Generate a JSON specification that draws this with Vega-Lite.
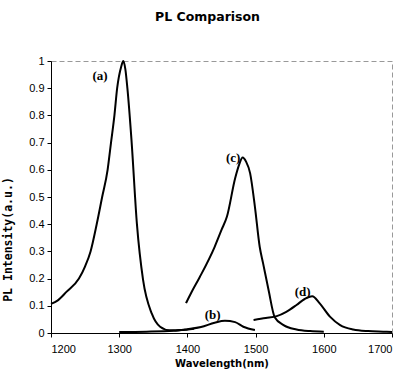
{
  "$schema": "https://vega.github.io/schema/vega-lite/v6.json",
  "width": 341,
  "height": 272,
  "autosize": "none",
  "padding": {"left": 51, "top": 61, "right": 8, "bottom": 42},
  "background": "white",
  "title": {"text": "PL Comparison", "font": "DejaVu Sans", "fontSize": 12.5, "fontWeight": "bold", "color": "#000", "anchor": "middle", "dx": -14, "offset": 32},
  "config": {
    "view": {"stroke": "#999", "strokeDash": [5, 3], "strokeWidth": 1},
    "axis": {"grid": false, "domainColor": "#000", "tickColor": "#000", "labelColor": "#000", "titleColor": "#000", "labelFont": "Liberation Sans", "labelFontSize": 11, "titleFont": "DejaVu Sans", "titleFontWeight": "bold", "titleFontSize": 10}
  },
  "data": {"values": [
    {"s": "a", "x": 1200, "y": 0.107},
    {"s": "a", "x": 1210, "y": 0.12},
    {"s": "a", "x": 1223, "y": 0.152},
    {"s": "a", "x": 1241, "y": 0.2},
    {"s": "a", "x": 1250, "y": 0.245},
    {"s": "a", "x": 1258, "y": 0.3},
    {"s": "a", "x": 1267, "y": 0.4},
    {"s": "a", "x": 1275, "y": 0.5},
    {"s": "a", "x": 1283, "y": 0.6},
    {"s": "a", "x": 1288, "y": 0.7},
    {"s": "a", "x": 1293, "y": 0.8},
    {"s": "a", "x": 1297, "y": 0.9},
    {"s": "a", "x": 1303, "y": 0.98},
    {"s": "a", "x": 1306, "y": 1.0},
    {"s": "a", "x": 1309, "y": 0.97},
    {"s": "a", "x": 1312, "y": 0.9},
    {"s": "a", "x": 1318, "y": 0.71},
    {"s": "a", "x": 1326, "y": 0.4},
    {"s": "a", "x": 1335, "y": 0.195},
    {"s": "a", "x": 1348, "y": 0.07},
    {"s": "a", "x": 1360, "y": 0.023},
    {"s": "a", "x": 1374, "y": 0.01},
    {"s": "a", "x": 1390, "y": 0.011},
    {"s": "a", "x": 1410, "y": 0.016},
    {"s": "b", "x": 1300, "y": 0.004},
    {"s": "b", "x": 1340, "y": 0.005},
    {"s": "b", "x": 1380, "y": 0.008},
    {"s": "b", "x": 1400, "y": 0.014},
    {"s": "b", "x": 1420, "y": 0.022},
    {"s": "b", "x": 1440, "y": 0.038},
    {"s": "b", "x": 1455, "y": 0.045},
    {"s": "b", "x": 1470, "y": 0.04},
    {"s": "b", "x": 1482, "y": 0.023},
    {"s": "b", "x": 1499, "y": 0.011},
    {"s": "c", "x": 1398, "y": 0.11},
    {"s": "c", "x": 1406, "y": 0.15},
    {"s": "c", "x": 1418, "y": 0.205},
    {"s": "c", "x": 1440, "y": 0.317},
    {"s": "c", "x": 1450, "y": 0.379},
    {"s": "c", "x": 1458, "y": 0.428},
    {"s": "c", "x": 1470, "y": 0.569},
    {"s": "c", "x": 1476, "y": 0.62},
    {"s": "c", "x": 1481, "y": 0.645},
    {"s": "c", "x": 1486, "y": 0.63},
    {"s": "c", "x": 1492, "y": 0.587},
    {"s": "c", "x": 1499, "y": 0.464},
    {"s": "c", "x": 1506, "y": 0.317},
    {"s": "c", "x": 1511, "y": 0.256},
    {"s": "c", "x": 1519, "y": 0.158},
    {"s": "c", "x": 1528, "y": 0.058},
    {"s": "c", "x": 1541, "y": 0.029},
    {"s": "c", "x": 1560, "y": 0.013},
    {"s": "c", "x": 1580, "y": 0.007},
    {"s": "c", "x": 1600, "y": 0.005},
    {"s": "d", "x": 1497, "y": 0.048},
    {"s": "d", "x": 1515, "y": 0.055},
    {"s": "d", "x": 1531, "y": 0.062},
    {"s": "d", "x": 1545, "y": 0.078},
    {"s": "d", "x": 1560, "y": 0.103},
    {"s": "d", "x": 1572, "y": 0.125},
    {"s": "d", "x": 1583, "y": 0.135},
    {"s": "d", "x": 1594, "y": 0.109},
    {"s": "d", "x": 1609, "y": 0.06},
    {"s": "d", "x": 1624, "y": 0.029},
    {"s": "d", "x": 1643, "y": 0.013},
    {"s": "d", "x": 1665, "y": 0.007},
    {"s": "d", "x": 1687, "y": 0.005},
    {"s": "d", "x": 1700, "y": 0.004}
  ]},
  "layer": [
    {
      "mark": {"type": "line", "color": "#000", "strokeWidth": 2, "interpolate": "monotone"},
      "encoding": {
        "x": {"field": "x", "type": "quantitative", "scale": {"domain": [1200, 1700], "nice": false}, "axis": {"values": [1200, 1300, 1400, 1500, 1600, 1700], "format": "d", "title": "Wavelength(nm)", "tickSize": 4, "labelPadding": 6, "titlePadding": 4}},
        "y": {"field": "y", "type": "quantitative", "scale": {"domain": [0, 1], "nice": false}, "axis": {"tickCount": 10, "labelOverlap": false, "labelFlush": false, "format": "~g", "title": "PL Intensity(a.u.)", "titleFont": "DejaVu Sans Mono", "titleFontSize": 11.5, "tickSize": 4, "labelPadding": 3, "titleX": -43, "titleY": 178, "titleAlign": "center", "titleBaseline": "middle", "titleAngle": 270}},
        "detail": {"field": "s"}
      }
    },
    {
      "data": {"values": [
        {"t": "(a)", "x": 1272, "y": 0.945},
        {"t": "(b)", "x": 1437, "y": 0.066},
        {"t": "(c)", "x": 1467, "y": 0.645},
        {"t": "(d)", "x": 1569, "y": 0.15}
      ]},
      "mark": {"type": "text", "font": "Liberation Serif", "fontWeight": "bold", "fontSize": 13, "color": "#000"},
      "encoding": {
        "x": {"field": "x", "type": "quantitative"},
        "y": {"field": "y", "type": "quantitative"},
        "text": {"field": "t"}
      }
    }
  ]
}
